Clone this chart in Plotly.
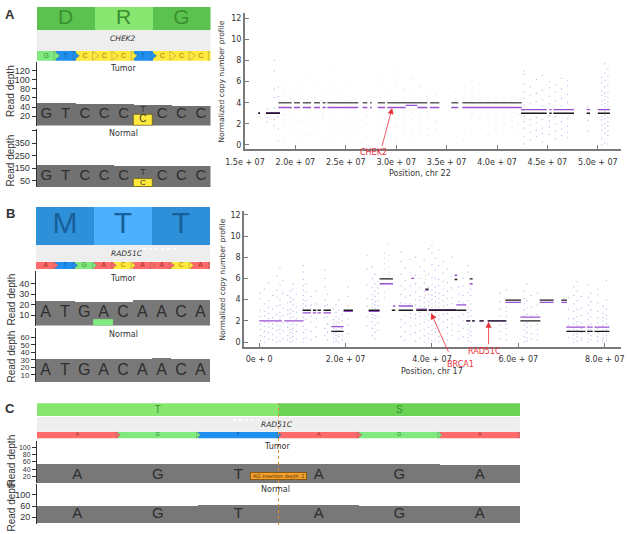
import plotly.graph_objects as go

W, H = 627, 534
SANS = "Liberation Sans"
PLOT = "DejaVu Sans"

# ---------- Panel A genome browser ----------
a_codons = ["D", "R", "G"]
a_codon_colors = ["#5cc24f", "#86e66f", "#5cc24f"]
a_bases = ["G", "T", "C", "C", "C", "T", "C", "C", "C"]
a_tumor_depth = [49, 49, 48, 48, 48, 46, 46, 44, 44]
a_normal_depth = [180, 180, 176, 176, 172, 168, 170, 170, 170]
a_tumor_ticks = [20, 40, 60, 80, 100, 120]
a_normal_ticks = [50, 150, 250, 350, 450]
a_tumor_letters = ["G", "T", "C", "C", "C", "", "C", "C", "C"]
a_normal_letters = ["G", "T", "C", "C", "C", "", "C", "C", "C"]

# ---------- Panel B genome browser ----------
b_codons = ["M", "T", "T"]
b_codon_colors = ["#2f90da", "#4cb0ff", "#2f90da"]
b_bases = ["A", "T", "G", "A", "C", "A", "A", "C", "A"]
b_tumor_depth = [23, 23, 22, 22, 22, 24, 24, 24, 24]
b_normal_depth = [31, 31, 31, 31, 31, 31, 32, 31, 31]
b_tumor_ticks = [10, 20, 30, 40]
b_normal_ticks = [10, 20, 30, 40, 50, 60]

# ---------- Panel C genome browser ----------
c_codons = ["T", "S"]
c_codon_colors = ["#86e66f", "#6ad255"]
c_bases = ["A", "G", "T", "A", "G", "A"]
c_tumor_depth = [53, 53, 53, 53, 53, 52]
c_normal_depth = [61, 61, 63, 62, 61, 61]
c_tumor_ticks = [20, 40, 60, 80, 100]
c_normal_ticks = [20, 60, 100]

base_colors = {"A": "#ff6b6b", "T": "#1f8ff0", "G": "#80ea80", "C": "#ffe93d"}
base_text = {"A": "#a02c2c", "T": "#0f5f9f", "G": "#2f8a2f", "C": "#8c7c10"}

# ---------- Panel A copy number (x in units of 1e7) ----------
a_xticks = [1.5, 2.0, 2.5, 3.0, 3.5, 4.0, 4.5, 5.0]
a_xlabels = ["1.5e + 07", "2.0e + 07", "2.5e + 07", "3.0e + 07", "3.5e + 07", "4.0e + 07", "4.5e + 07", "5.0e + 07"]
cn_yticks = [0, 2, 4, 6, 8, 10, 12]
a_gray_segments = [(1.831, 1.963, 4), (1.986, 2.046, 4), (2.072, 2.155, 4), (2.185, 2.244, 4), (2.270, 2.300, 4),
                   (2.317, 2.624, 4), (2.667, 2.714, 4), (2.740, 2.757, 4), (2.816, 2.889, 4), (2.912, 3.309, 4),
                   (3.335, 3.428, 4), (3.547, 3.616, 4), (3.656, 4.245, 4)]
a_black_segments = [(1.632, 1.649, 3), (1.708, 1.847, 3), (4.238, 4.493, 3), (4.519, 4.542, 3), (4.559, 4.764, 3),
                    (4.889, 4.923, 3), (5.00, 5.12, 3)]
a_purple_segments = [(1.632, 1.649, 3.05), (1.708, 1.847, 3.05), (1.831, 1.963, 3.55), (1.986, 2.046, 3.55),
                     (2.072, 2.155, 3.55), (2.185, 2.244, 3.55), (2.270, 2.300, 3.55), (2.317, 2.624, 3.55),
                     (2.667, 2.714, 3.55), (2.740, 2.757, 3.55), (2.816, 2.889, 3.55), (2.912, 3.094, 3.55),
                     (3.094, 3.21, 3.75), (3.21, 3.309, 3.55), (3.335, 3.428, 3.55), (3.547, 3.616, 3.55),
                     (3.656, 4.245, 3.55), (4.238, 4.493, 3.35), (4.519, 4.542, 3.35), (4.559, 4.764, 3.35),
                     (4.889, 4.923, 3.35), (5.00, 5.12, 3.35)]
a_green_strips = {
    1.88: [0.6, 1.7, 2.4, 2.9, 3.2, 4.6, 5.3, 6.1], 1.95: [1.1, 2.1, 2.7, 3.4, 4.4, 5.0],
    2.03: [0.4, 1.5, 2.3, 3.1, 3.7, 4.8, 5.7], 2.11: [0.9, 1.8, 2.6, 3.3, 4.3, 5.2, 6.6],
    2.19: [1.3, 2.2, 2.8, 3.5, 4.5, 5.9], 2.27: [0.7, 1.6, 2.5, 3.0, 4.2, 4.9],
    2.35: [0.3, 1.2, 2.0, 2.7, 3.2, 4.7, 5.5, 7.1], 2.43: [1.0, 1.9, 2.4, 3.4, 4.1, 5.1],
    2.51: [0.5, 1.4, 2.2, 2.9, 3.6, 4.6, 6.0], 2.59: [1.1, 1.8, 2.6, 3.3, 4.4],
    2.71: [0.8, 2.0, 2.8, 3.2, 4.3, 5.4], 2.83: [0.6, 1.5, 2.3, 3.0, 4.5, 5.6, 6.4],
    2.91: [1.2, 2.1, 2.9, 3.4, 4.2, 5.0], 2.99: [0.4, 1.7, 2.5, 3.1, 4.6, 5.8, 6.6, 7.4],
    3.07: [1.0, 1.9, 2.7, 3.3, 4.4, 5.3, 6.9], 3.15: [0.7, 1.4, 2.4, 3.0, 4.1, 4.8, 6.2],
    3.23: [1.3, 2.2, 2.8, 3.5, 4.5, 5.5], 3.31: [0.9, 1.6, 2.6, 3.2, 4.3, 5.2],
    3.39: [1.5, 2.3, 3.1, 4.7], 3.59: [0.8, 2.0, 2.9, 3.3, 4.2, 5.0],
    3.67: [0.5, 1.3, 2.4, 3.4, 4.4, 5.6], 3.75: [1.1, 1.8, 2.7, 3.1, 4.6, 5.3, 6.1],
    3.83: [0.3, 1.6, 2.5, 3.2, 4.3, 4.9, 5.8], 3.91: [0.9, 2.1, 2.8, 3.5, 4.5, 6.3],
    3.99: [0.6, 1.4, 2.2, 3.0, 4.2, 5.4], 4.07: [1.2, 1.9, 2.6, 3.3, 4.4, 5.1],
    4.15: [0.4, 1.7, 2.3, 3.1, 4.6, 5.7], 4.21: [1.0, 2.0, 2.9, 3.4, 4.3],
}
a_blue_strips = {
    1.72: [3.4, 2.6, 2.2], 1.79: [1.8, 2.4, 3.5, 4.5, 5.3, 7.0, 8.0], 1.83: [0.4, 1.5, 2.7, 4.6, 5.5],
    4.27: [0.1, 0.8, 1.6, 2.2, 2.7, 3.8, 4.4, 5.0, 5.8, 6.7, 7.0], 4.33: [0.5, 1.2, 1.9, 2.4, 3.9, 4.7, 5.5],
    4.39: [0.8, 1.4, 2.1, 2.6, 4.1, 4.9, 6.2], 4.45: [0.3, 1.1, 1.6, 2.4, 3.7, 4.3, 5.2, 6.6],
    4.52: [1.0, 1.7, 2.3, 2.8, 3.9, 4.6, 5.4, 6.0], 4.58: [0.6, 1.3, 2.0, 2.7, 4.2, 5.0, 5.7],
    4.64: [0.9, 1.5, 2.2, 3.7, 4.4, 5.3, 6.3], 4.70: [0.7, 1.2, 1.8, 2.5, 4.0, 4.8, 5.6, 6.1],
    4.90: [1.3, 2.3, 3.6],
    5.04: [0.0, 0.6, 1.4, 1.9, 2.4, 2.7, 3.3, 3.8, 4.2, 4.7, 5.1, 5.9, 6.4],
    5.07: [0.2, 1.1, 1.6, 2.0, 2.5, 2.8, 3.2, 3.6, 3.9, 4.3, 4.6, 4.9, 5.5, 6.1, 6.8, 7.7],
    5.10: [0.1, 0.9, 1.3, 1.8, 2.2, 2.6, 3.4, 3.7, 4.1, 4.5, 5.0, 5.6, 6.5, 7.2],
}

# ---------- Panel B copy number (x in units of 1e7) ----------
b_xticks = [0, 2, 4, 6, 8]
b_xlabels = ["0e + 0", "2.0e + 07", "4.0e + 07", "6.0e + 07", "8.0e + 07"]
b_black_segments = [(1.004, 1.197, 3), (1.243, 1.32, 3), (1.351, 1.429, 3), (1.49, 1.66, 3), (1.668, 1.954, 1),
                    (1.954, 2.17, 3), (2.533, 2.788, 3), (2.788, 3.097, 5.95), (3.07, 3.15, 3), (3.228, 3.56, 3),
                    (3.637, 3.884, 3), (3.846, 3.923, 5.0), (3.923, 4.564, 3), (4.564, 4.795, 3), (4.525, 4.587, 5.9),
                    (4.795, 4.888, 2), (4.93, 4.99, 2), (5.1, 5.2, 2), (4.873, 4.942, 5.95), (5.29, 5.722, 2),
                    (5.70, 6.06, 3.95), (6.046, 6.51, 2), (6.494, 6.819, 3.95), (6.996, 7.127, 3.95), (7.112, 7.552, 1),
                    (7.59, 7.722, 1), (7.761, 8.108, 1)]
b_purple_segments = [(0, 0.525, 2), (0.58, 1.027, 2), (1.004, 1.197, 2.75), (1.243, 1.32, 2.75), (1.351, 1.429, 2.75),
                     (1.49, 1.66, 2.75), (1.668, 1.954, 1.45), (1.954, 2.17, 2.9), (2.533, 2.788, 2.9),
                     (2.788, 3.097, 5.5), (3.097, 3.15, 3.4), (3.228, 3.56, 3.4), (3.52, 3.59, 6.0), (3.637, 3.884, 3.1),
                     (3.846, 3.923, 4.9), (3.923, 4.564, 3.05), (4.564, 4.795, 3.5), (4.525, 4.587, 6.3),
                     (4.795, 4.888, 2), (4.93, 4.99, 2), (5.1, 5.2, 2), (4.873, 4.942, 5.5), (5.29, 5.722, 2),
                     (5.70, 6.06, 3.75), (6.046, 6.51, 2.35), (6.494, 6.819, 3.75), (6.996, 7.127, 3.75),
                     (7.112, 7.552, 1.4), (7.59, 7.722, 1.4), (7.761, 8.108, 1.4)]
b_blue_strips = {
    0.03: [0.1, 0.6, 1.2, 1.7, 2.4, 3.0, 4.1, 4.6], 0.12: [0.0, 0.5, 1.0, 1.5, 1.9, 2.5, 2.9, 3.6, 5.0],
    0.22: [0.3, 0.9, 1.4, 1.8, 2.2, 2.7, 3.3, 3.9, 5.6], 0.31: [0.2, 0.7, 1.3, 1.7, 2.3, 3.1, 4.4],
    0.41: [0.0, 0.4, 1.1, 1.6, 1.9, 2.6, 3.4, 4.2, 4.9, 6.2], 0.48: [0.1, 0.8, 1.2, 1.5, 2.1, 2.4, 2.8, 3.5, 4.0, 5.4, 7.0],
    0.55: [0.3, 1.0, 1.8, 2.5, 3.2, 4.6, 5.8], 0.66: [0.2, 0.6, 1.4, 1.8, 2.6, 3.0, 3.7, 4.4],
    0.72: [0.0, 0.4, 0.9, 1.2, 1.6, 2.3, 2.7, 3.1, 3.8, 4.2, 4.8], 0.78: [0.1, 0.5, 0.8, 1.1, 1.3, 1.7, 2.4, 2.9, 3.5, 4.0, 5.0, 5.5],
    0.86: [0.3, 1.0, 1.6, 2.2, 2.8, 3.3, 4.5], 1.02: [0.0, 0.3, 0.9, 1.5, 2.3, 3.2, 3.6, 4.0, 4.4, 4.9, 5.3, 5.9, 6.6, 7.2],
    1.08: [0.4, 1.2, 2.1, 3.4, 3.9, 4.7, 5.5], 1.20: [0.2, 1.0, 1.9, 2.4, 3.5, 4.3], 1.32: [0.5, 1.4, 2.2, 3.6, 4.8],
    1.52: [0.6, 1.3, 2.3, 3.4, 4.0, 5.2, 6.0, 6.8], 1.58: [0.2, 0.9, 1.7, 2.4, 3.5, 4.5],
    1.72: [0.0, 0.4, 0.8, 1.3, 1.7, 2.1, 3.2], 1.78: [0.1, 0.3, 0.6, 0.9, 1.2, 1.6, 1.9, 2.4, 2.8, 3.5],
    1.84: [0.0, 0.5, 0.7, 1.1, 1.4, 1.8, 2.2, 3.0, 4.0], 1.92: [0.2, 0.6, 1.3, 2.0, 2.6],
    2.06: [0.8, 1.6, 2.2, 3.4, 4.3, 5.2], 2.5: [1.5, 2.4, 3.4, 4.1, 5.4, 6.9, 8.2],
    2.62: [0.6, 1.3, 1.9, 2.3, 2.6, 3.3, 3.6, 4.0, 4.5, 5.2, 6.0, 7.1], 2.68: [0.3, 0.9, 1.6, 2.2, 2.5, 3.2, 3.5, 3.8, 4.3, 4.8, 5.5, 6.4],
    2.75: [1.1, 1.8, 2.4, 3.4, 3.9, 4.6, 5.1, 5.7], 3.28: [0.5, 1.4, 2.1, 3.7, 4.5, 5.3, 6.4, 7.6, 8.5],
    3.38: [0.2, 1.0, 1.8, 2.5, 3.6, 4.2, 5.0, 5.8, 7.0], 3.5: [0.7, 1.5, 2.3, 2.7, 3.6, 4.4, 5.3, 6.6, 7.8],
    3.62: [0.1, 0.9, 1.6, 2.2, 2.6, 3.5, 4.0, 4.7, 5.5, 6.3, 8.0], 3.72: [0.4, 1.1, 1.7, 2.4, 2.8, 3.4, 3.9, 4.3, 5.1, 6.0, 7.1],
    3.82: [0.0, 0.6, 1.2, 1.9, 2.5, 3.3, 3.7, 4.2, 4.8, 5.6, 6.7, 7.7], 3.92: [0.3, 0.8, 1.4, 2.0, 2.6, 3.4, 3.8, 4.5, 5.2, 6.4, 8.8],
    4.0: [0.1, 0.7, 1.1, 1.6, 2.2, 2.7, 3.3, 3.6, 4.0, 4.4, 4.9, 5.4, 6.1, 7.3, 8.4, 9.1],
    4.08: [0.2, 0.9, 1.3, 1.8, 2.4, 2.8, 3.4, 3.8, 4.3, 4.7, 5.2, 6.0, 6.8, 7.9],
    4.16: [0.0, 0.5, 1.0, 1.5, 2.1, 2.5, 3.3, 3.7, 4.1, 4.6, 5.3, 5.9, 7.2, 8.7],
    4.26: [0.4, 1.2, 1.9, 2.6, 3.4, 3.9, 4.4, 5.0, 5.7, 6.5, 7.6], 4.36: [0.2, 0.8, 1.4, 2.1, 2.7, 3.5, 4.1, 4.8, 5.6, 6.9],
    4.46: [0.6, 1.1, 1.7, 2.3, 3.6, 4.2, 5.1, 6.2, 8.0], 4.62: [0.3, 1.0, 1.6, 2.4, 3.8, 4.5, 5.2],
    4.72: [0.5, 1.3, 2.0, 2.6, 3.7, 4.4, 5.3, 6.0], 4.84: [0.1, 0.4, 0.8, 1.2, 1.7, 2.4, 2.8, 3.2, 3.9, 4.7, 6.6, 7.2],
    4.9: [0.0, 0.6, 1.0, 1.5, 2.5, 3.0, 3.6, 4.4, 5.0], 5.58: [0.3, 1.0, 1.6, 2.5, 3.1, 3.8, 4.6],
    5.72: [0.2, 0.7, 1.3, 1.7, 2.4, 2.9, 3.3, 4.0, 4.9], 6.14: [0.0, 0.5, 1.1, 1.6, 2.5, 3.0, 3.6, 4.1, 4.8],
    6.2: [0.1, 0.4, 0.9, 1.4, 1.8, 2.6, 3.2, 3.9, 5.5], 6.3: [0.3, 0.8, 1.5, 2.5, 3.3, 4.4],
    6.44: [0.2, 0.7, 1.2, 1.7, 2.6, 3.5, 4.6], 7.16: [0.4, 1.1, 1.6, 2.2, 3.1, 4.2],
    7.28: [0.0, 0.3, 0.7, 1.2, 1.7, 2.2, 2.9, 3.6, 4.4, 5.2], 7.36: [0.1, 0.5, 0.8, 1.1, 1.6, 1.9, 2.4, 3.1, 3.9, 4.8, 5.7],
    7.46: [0.2, 0.4, 0.9, 1.3, 1.8, 2.5, 3.2, 4.3], 7.62: [0.0, 0.3, 0.8, 1.2, 1.6, 2.1, 2.7, 3.5, 4.2, 5.4],
    7.68: [0.2, 0.6, 1.1, 1.7, 2.4, 3.0, 3.8, 4.6], 7.84: [0.1, 0.5, 0.9, 1.3, 1.8, 2.3, 2.9, 3.7, 4.5, 5.0],
    7.96: [0.0, 0.2, 0.4, 0.7, 1.1, 1.6, 2.0, 2.3, 2.7, 3.4], 8.04: [0.1, 0.3, 0.6, 0.8, 1.2, 1.7, 2.2, 2.5, 3.1, 4.0, 5.8],
}
b_orange_strips = {
    2.9: [6.4, 6.9, 7.4, 7.9, 8.4, 4.7, 4.2], 3.0: [6.3, 6.6, 7.1, 7.7, 8.2, 9.3, 4.9], 3.85: [5.4, 5.9, 6.3, 4.4],
}

fig = go.Figure()
layout_axes = {}
axis_n = [0]


def px_dom_x(a, b):
    return [a / W, b / W]


def px_dom_y(top, bottom):
    return [1 - bottom / H, 1 - top / H]


def new_axes(left, right, top, bottom, xr, yr, xextra=None, yextra=None):
    axis_n[0] += 1
    n = axis_n[0]
    xa = dict(domain=px_dom_x(left, right), range=xr, visible=False, anchor=f"y{n}", fixedrange=True, automargin=False)
    ya = dict(domain=px_dom_y(top, bottom), range=yr, visible=False, anchor=f"x{n}", fixedrange=True, automargin=False)
    xa.update(xextra or {})
    ya.update(yextra or {})
    layout_axes[f"xaxis{n}"] = xa
    layout_axes[f"yaxis{n}"] = ya
    return f"x{n}", f"y{n}"


annotations = []
shapes = []


def note(px, py, text, size=10, color="#333333", family=SANS, angle=0, **kw):
    annotations.append(dict(x=px / W, y=1 - py / H, xref="paper", yref="paper", text=text, showarrow=False,
                            font=dict(size=size, color=color, family=family), textangle=angle,
                            xanchor="center", yanchor="middle", **kw))


def white_dots(px0, px1, py):
    shapes.append(dict(type="line", xref="paper", yref="paper", x0=px0 / W, x1=px1 / W, y0=1 - py / H, y1=1 - py / H,
                       line=dict(color="white", width=1.5, dash="dot")))


def band(left, right, top, bottom, n, centers, widths, colors):
    x, y = new_axes(left, right, top, bottom, [-0.5, n - 0.5], [0, 1])
    fig.add_trace(go.Bar(x=centers, y=[1] * len(centers), width=widths, marker=dict(color=colors, line=dict(width=0)),
                         xaxis=x, yaxis=y, hoverinfo="skip"))
    return x, y


def strip(left, right, top, bottom, bases, text_size):
    n = len(bases)
    idx = list(range(n))
    x, y = band(left, right, top, bottom, n, idx, [1] * n, [base_colors[b] for b in bases])
    fig.add_trace(go.Scatter(x=[i + 0.5 for i in idx], y=[0.5] * n, mode="markers",
                             marker=dict(symbol="triangle-right", size=(bottom - top) * 0.85,
                                         color=[base_colors[b] for b in bases],
                                         line=dict(color="#555555", width=0.3)),
                             xaxis=x, yaxis=y, hoverinfo="skip"))
    fig.add_trace(go.Scatter(x=idx, y=[0.5] * n, mode="text", text=bases,
                             textfont=dict(size=text_size, color=[base_text[b] for b in bases], family=SANS),
                             xaxis=x, yaxis=y, hoverinfo="skip"))


def track(left, right, top, bottom, yr, depth, ticks, labels, letter_y, letter_size, color, ticklabels=None,
          tick_size=9):
    n = len(depth)
    idx = list(range(n))
    x, y = new_axes(left, right, top, bottom, [-0.5, n - 0.5], yr,
                    yextra=dict(visible=True, showgrid=False, zeroline=False, showline=True, linecolor="#333333",
                                linewidth=1, ticks="outside", ticklen=4, tickcolor="#333333", tickvals=ticks,
                                ticktext=ticklabels or [str(t) for t in ticks],
                                tickfont=dict(size=tick_size, color="#333333", family=SANS)))
    fig.add_trace(go.Bar(x=idx, y=depth, width=[1] * n, marker=dict(color=color, line=dict(width=0)),
                         xaxis=x, yaxis=y, hoverinfo="skip"))
    fig.add_trace(go.Scatter(x=idx, y=[letter_y] * n, mode="text", text=labels,
                             textfont=dict(size=letter_size, color="#2e2e2e", family=SANS),
                             xaxis=x, yaxis=y, hoverinfo="skip"))
    return x, y


def variant(x, y, i, height, color, border, top_letter, top_y, low_letter, low_y, low_size):
    fig.add_trace(go.Bar(x=[i], y=[height], width=[1], marker=dict(color=color, line=dict(color=border, width=0.8)),
                         xaxis=x, yaxis=y, hoverinfo="skip"))
    fig.add_trace(go.Scatter(x=[i, i], y=[top_y, low_y], mode="text", text=[top_letter, low_letter],
                             textfont=dict(size=[9, low_size], color="#333333", family=SANS),
                             xaxis=x, yaxis=y, hoverinfo="skip"))


# ---- Panel A left ----
AL, AR = 36.7, 210.5
x, y = band(AL, AR, 6.7, 30, 3, [0, 1, 2], [1, 1, 1], a_codon_colors)
fig.add_trace(go.Scatter(x=[0, 1, 2], y=[0.5] * 3, mode="text", text=a_codons,
                         textfont=dict(size=21, color="#3a9030", family=SANS), xaxis=x, yaxis=y, hoverinfo="skip"))
band(AL, AR, 30, 51, 1, [0], [1], ["#eeeeee"])
strip(AL, AR, 51, 60.7, a_bases, 7)
x, y = track(AL, AR, 61.7, 125.5, [0, 139], a_tumor_depth, a_tumor_ticks, a_tumor_letters, 23.5, 15, "#717171")
variant(x, y, 5, 24, "#ffe93d", "#6b5f10", "T", 34, "C", 12, 10)
x, y = track(AL, AR, 129, 187, [0, 465], a_normal_depth, a_normal_ticks, a_normal_letters, 90, 15, "#717171",
             ticklabels=["50", "150", "250", "350", ""])
variant(x, y, 5, 68, "#ffe93d", "#6b5f10", "T", 115, "C", 34, 8)
note(10.5, 91.5, "Read depth", 10, angle=-90)
note(10.5, 161, "Read depth", 10, angle=-90)
note(123, 38.5, "<i>CHEK2</i>", 7.5, family=PLOT)
note(123, 69, "Tumor", 8, family=PLOT)
note(123, 133, "Normal", 8, family=PLOT)
note(10, 14.5, "<b>A</b>", 13)

# ---- Panel B left ----
BL, BR = 36, 210
x, y = band(BL, BR, 206.7, 245, 3, [0, 1, 2], [1, 1, 1], b_codon_colors)
fig.add_trace(go.Scatter(x=[0, 1, 2], y=[0.5] * 3, mode="text", text=b_codons,
                         textfont=dict(size=30, color="#175f99", family=SANS), xaxis=x, yaxis=y, hoverinfo="skip"))
band(BL, BR, 245, 261.7, 1, [0], [1], ["#eeeeee"])
strip(BL, BR, 261.7, 269, b_bases, 6.5)
x, y = track(BL, BR, 271, 325.5, [0, 52], b_tumor_depth, b_tumor_ticks, b_bases, 12, 16, "#787878")
variant(x, y, 3, 5, "#80ea80", "#80ea80", "", 15, "", 2, 8)
track(BL, BR, 328.3, 382.3, [0, 72], b_normal_depth, b_normal_ticks, b_bases, 15, 16, "#787878", tick_size=8)
note(10.5, 300, "Read depth", 10, angle=-90)
note(10.5, 357, "Read depth", 10, angle=-90)
white_dots(143, 180, 249)
note(127, 253.5, "<i>RAD51C</i>", 7.5, family=PLOT)
note(123, 278.5, "Tumor", 8, family=PLOT)
note(123, 334, "Normal", 8, family=PLOT)
note(10, 213, "<b>B</b>", 13)

# ---- Panel C ----
CL, CR = 37, 520
x, y = band(CL, CR, 403.3, 416.7, 6, [1, 4], [3, 3], c_codon_colors)
fig.add_trace(go.Scatter(x=[1, 4], y=[0.5, 0.5], mode="text", text=c_codons,
                         textfont=dict(size=10, color="#3a9030", family=SANS), xaxis=x, yaxis=y, hoverinfo="skip"))
band(CL, CR, 416.7, 431.7, 1, [0], [1], ["#eeeeee"])
strip(CL, CR, 431.7, 438.3, c_bases, 5.5)
tx, ty = track(CL, CR, 441, 483.3, [0, 119], c_tumor_depth, c_tumor_ticks, c_bases, 22, 15, "#787878", tick_size=7)
annotations.append(dict(x=2.5, y=20, xref=tx, yref=ty, text="AG insertion depth: 2", showarrow=False, width=55, height=6,
                        font=dict(size=5.5, color="#5a3a00", family=SANS), bgcolor="#f7a230", bordercolor="#8a5a10",
                        borderwidth=1, borderpad=0))
nx, ny = track(CL, CR, 484.3, 524.3, [-5, 138], c_normal_depth, c_normal_ticks, c_bases, 30, 15, "#787878", tick_size=9)
shapes.append(dict(type="line", xref=tx, yref="paper", x0=2.5, x1=2.5, y0=1 - 525 / H, y1=1 - 403 / H,
                   line=dict(color="#e08a30", width=1, dash="dot")))
note(10.5, 461, "Read depth", 10, angle=-90)
note(10.5, 506, "Read depth", 10, angle=-90)
white_dots(233, 262, 420)
note(276.7, 425, "<i>RAD51C</i>", 7.5, family=PLOT)
note(276.7, 446, "Tumor", 8, family=PLOT)
note(275, 489.7, "Normal", 8, family=PLOT)
note(10, 408.5, "<b>C</b>", 13)


# ---- Copy number panels ----
def cn_axes(left, right, top, bottom, xr, yr, xticks, xlabels):
    common = dict(visible=True, showgrid=False, zeroline=False, showline=True, linecolor="#7a7a7a", linewidth=2,
                  ticks="inside", ticklen=4, tickcolor="#7a7a7a", tickfont=dict(size=8, color="#333333", family=PLOT))
    return new_axes(left, right, top, bottom, xr, yr,
                    xextra=dict(common, tickvals=xticks, ticktext=xlabels, ticklabelstandoff=4),
                    yextra=dict(common, tickvals=cn_yticks, ticktext=[str(t) for t in cn_yticks]))


def strips_trace(strips, color, size, op, x, y):
    xs, ys = [], []
    for k, vals in strips.items():
        for v in vals:
            xs.append(k)
            ys.append(v)
    fig.add_trace(go.Scatter(x=xs, y=ys, mode="markers", marker=dict(color=color, size=size, opacity=op, line=dict(width=0)),
                             xaxis=x, yaxis=y, hoverinfo="skip"))


def segments_trace(segs, color, width, x, y):
    xs, ys = [], []
    for s, e, lv in segs:
        xs += [s, e, None]
        ys += [lv, lv, None]
    fig.add_trace(go.Scatter(x=xs, y=ys, mode="lines", line=dict(color=color, width=width), xaxis=x, yaxis=y,
                             hoverinfo="skip"))


x, y = cn_axes(245, 620.7, 13, 149.3, [1.5, 5.227], [-0.41, 12.5], a_xticks, a_xlabels)
strips_trace(a_green_strips, "#c8d8a0", 1.3, 0.5, x, y)
strips_trace(a_blue_strips, "#6f6fe0", 1.3, 0.5, x, y)
segments_trace(a_purple_segments, "#9a50d0", 1.3, x, y)
segments_trace(a_gray_segments, "#5e5e5e", 1.3, x, y)
segments_trace(a_black_segments, "#1a1a1a", 1.5, x, y)
annotations.append(dict(x=2.96, y=3.5, xref=x, yref=y, ax=-10.6, ay=39.7, text="", showarrow=True, arrowcolor="#e8323c",
                        arrowwidth=0.8, arrowhead=2, arrowsize=1.5))
note(373, 152.7, "CHEK2", 8, color="#e8323c", family=PLOT)
note(420, 173.5, "Position, chr 22", 8, family=PLOT)
note(221.7, 82, "Normalized copy number profile", 7.6, family=PLOT, angle=-90)

x, y = cn_axes(244.3, 620.7, 211, 346.7, [-0.345, 8.37], [-0.44, 12.36], b_xticks, b_xlabels)
strips_trace(b_blue_strips, "#6f6fe0", 1.3, 0.5, x, y)
strips_trace(b_orange_strips, "#e0a070", 1.3, 0.5, x, y)
segments_trace(b_purple_segments, "#9a50d0", 1.3, x, y)
segments_trace(b_black_segments, "#1a1a1a", 1.3, x, y)
annotations.append(dict(x=3.98, y=2.71, xref=x, yref=y, ax=18, ay=40, text="", showarrow=True, arrowcolor="#e8323c",
                        arrowwidth=0.8, arrowhead=2, arrowsize=1.5))
annotations.append(dict(x=5.31, y=1.92, xref=x, yref=y, ax=0, ay=24, text="", showarrow=True, arrowcolor="#e8323c",
                        arrowwidth=0.8, arrowhead=2, arrowsize=1.5))
note(460, 364, "BRCA1", 8, color="#e8323c", family=PLOT)
note(484.3, 351.7, "RAD51C", 8, color="#e8323c", family=PLOT)
note(432.5, 371, "Position, chr 17", 8, family=PLOT)
note(221.7, 280, "Normalized copy number profile", 7.6, family=PLOT, angle=-90)

fig.update_layout(width=W, height=H, margin=dict(l=0, r=0, t=0, b=0, autoexpand=False), autosize=False, showlegend=False,
                  paper_bgcolor="white", plot_bgcolor="white", barmode="overlay", bargap=0,
                  annotations=annotations, shapes=shapes, **layout_axes)
fig.write_html("out.html", config={"displayModeBar": False},
               post_script="document.body.style.margin='0';document.documentElement.style.overflow='hidden';")
